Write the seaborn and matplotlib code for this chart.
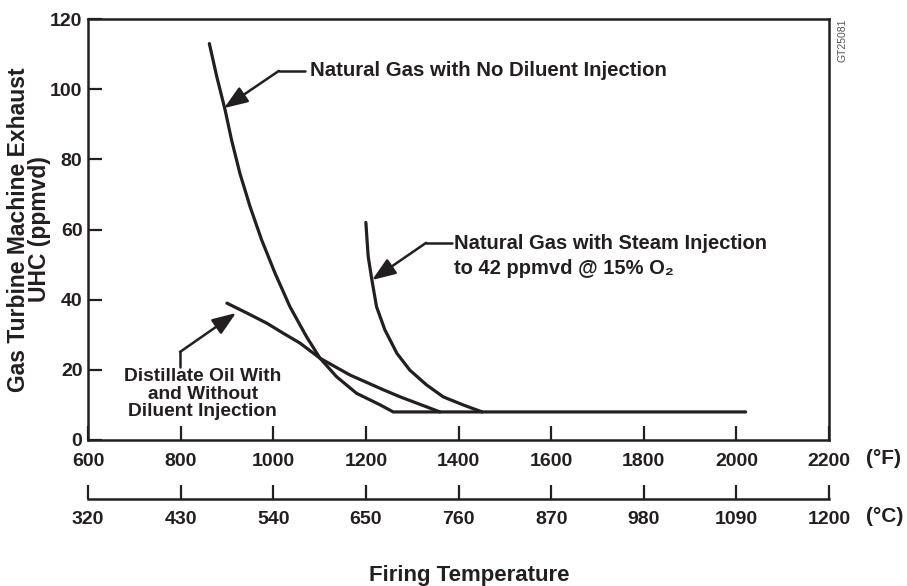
import seaborn as sns
import matplotlib.pyplot as plt
import pandas as pd

# ---- data (deg F, ppmvd) ----
no_diluent_f = [862, 878, 896, 910, 928, 950, 975, 1004, 1036, 1072, 1101, 1137, 1180, 1231, 1259, 2020]
no_diluent_v = [113, 103.6, 94.1, 85.5, 76, 66.5, 57, 47.5, 38, 29.4, 23.3, 18, 13.3, 10, 8, 8]

steam_f = [1200, 1202, 1205, 1213, 1223, 1241, 1267, 1295, 1331, 1367, 1410, 1451]
steam_v = [62, 58, 52.3, 45.6, 38, 31.4, 24.7, 19.9, 15.7, 12.3, 10, 8]

oil_f = [900, 943, 986, 1022, 1058, 1101, 1166, 1238, 1274, 1320, 1360]
oil_v = [39, 36.2, 33.3, 30.4, 27.6, 23.3, 18.5, 14.3, 12.3, 10, 8]

f_ticks = [600, 800, 1000, 1200, 1400, 1600, 1800, 2000, 2200]
c_labels = [320, 430, 540, 650, 760, 870, 980, 1090, 1200]
y_ticks = [0, 20, 40, 60, 80, 100, 120]

# long-form table for seaborn
df = pd.concat([
    pd.DataFrame({"temp_f": no_diluent_f, "uhc": no_diluent_v, "curve": "no_diluent"}),
    pd.DataFrame({"temp_f": steam_f, "uhc": steam_v, "curve": "steam"}),
    pd.DataFrame({"temp_f": oil_f, "uhc": oil_v, "curve": "oil"}),
])

sns.set_style("white")
plt.rcParams["font.family"] = ["Liberation Sans", "DejaVu Sans"]
plt.rcParams["font.weight"] = "bold"

INK = "#231f20"

fig = plt.figure(figsize=(9.07, 5.86), dpi=100)
ax = fig.add_axes([88 / 907, 1 - 440 / 586, 741 / 907, 421 / 586])

sns.lineplot(data=df, x="temp_f", y="uhc", units="curve", estimator=None,
             sort=False, color=INK, linewidth=2.3, ax=ax, legend=False)

ax.set_xlim(600, 2200)
ax.set_ylim(0, 120)
ax.set_xticks(f_ticks)
ax.set_yticks(y_ticks)
ax.tick_params(direction="in", length=10, width=1.6, labelsize=14, colors=INK,
               bottom=True, left=True)
ax.tick_params(axis="y", pad=4)
ax.tick_params(axis="x", pad=9.5)
for s in ax.spines.values():
    s.set_color(INK)
    s.set_linewidth(1.8)
ax.set_xlabel("")
ax.set_ylabel("Gas Turbine Machine Exhaust\nUHC (ppmvd)", fontsize=16.5,
              fontweight="bold", color=INK, linespacing=0.9)
ax.yaxis.set_label_coords(-0.05, 0.5)

# second (deg C) scale underneath
axc = fig.add_axes([88 / 907, 1 - 499 / 586, 741 / 907, 0.0001])
axc.set_xlim(600, 2200)
axc.set_xticks(f_ticks)
axc.set_xticklabels([str(c) for c in c_labels])
axc.set_yticks([])
for side in ["left", "right", "top"]:
    axc.spines[side].set_visible(False)
axc.spines["bottom"].set_color(INK)
axc.spines["bottom"].set_linewidth(1.8)
axc.tick_params(axis="x", direction="in", length=10, width=1.6, labelsize=14,
                colors=INK, pad=9, bottom=True)

fig.text(866 / 907, 1 - 459 / 586, "(°F)", fontsize=15, color=INK, va="center", ha="left")
fig.text(866 / 907, 1 - 517 / 586, "(°C)", fontsize=15, color=INK, va="center", ha="left")
fig.text(469 / 907, 1 - 575 / 586, "Firing Temperature", fontsize=16, color=INK,
         ha="center", va="center")
fig.text(842 / 907, 1 - 18 / 586, "GT25081", fontsize=7.5, fontweight="normal",
         color="#555555", rotation=90, ha="center", va="top")

arrow = dict(arrowstyle="-|>,head_length=0.8,head_width=0.3", color=INK,
             lw=1.8, mutation_scale=18, shrinkA=0, shrinkB=0)

# Natural gas, no diluent
ax.plot([1012, 1069], [105.2, 105.2], color=INK, lw=1.8)
ax.annotate("", xy=(893.7, 94.6), xytext=(1012, 105.2), arrowprops=arrow)
ax.text(1079, 105.2, "Natural Gas with No Diluent Injection", fontsize=14.7,
        color=INK, ha="left", va="center")

# Natural gas with steam
ax.plot([1330, 1386], [56.2, 56.2], color=INK, lw=1.8)
ax.annotate("", xy=(1213.3, 45.6), xytext=(1330, 56.2), arrowprops=arrow)
ax.text(1390, 56.2 + 2.6, "Natural Gas with Steam Injection\nto 42 ppmvd @ 15% O₂",
        fontsize=14.5, color=INK, ha="left", va="top", linespacing=1.45)

# Distillate oil
ax.plot([798.7, 798.7], [20.8, 25.1], color=INK, lw=1.8)
ax.annotate("", xy=(919.6, 36.2), xytext=(798.7, 25.1), arrowprops=arrow)
ax.text(848, 13.1, "Distillate Oil With\nand Without\nDiluent Injection",
        fontsize=13.8, color=INK, ha="center", va="center", multialignment="center",
        linespacing=1.05)

fig.savefig("out.png", dpi=100)
